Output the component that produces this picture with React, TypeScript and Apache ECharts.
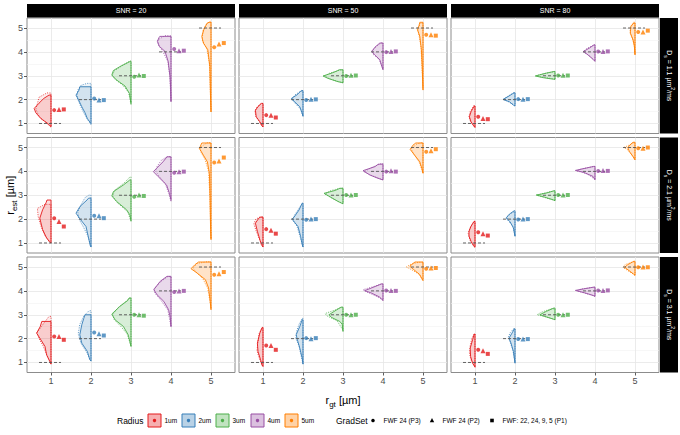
import React, { useEffect, useRef } from 'react';
import * as echarts from 'echarts';

// ---------- data ----------
const RADII = [1, 2, 3, 4, 5];
const RADIUS_LABELS = ['1um', '2um', '3um', '4um', '5um'];
const SNR_LEVELS = ['SNR = 20', 'SNR = 50', 'SNR = 80'];
const DIFFUSIVITIES = ['1.1', '2.1', '3.1'];
const GRADSETS = ['FWF 24 (P3)', 'FWF 24 (P2)', 'FWF: 22, 24, 9, 5 (P1)'];
const X_TICKS = [1, 2, 3, 4, 5];
const Y_TICKS = [1, 2, 3, 4, 5];
const Y_MINOR = [1.5, 2.5, 3.5, 4.5];

// violin half-profiles: [r_est, half-width] from bottom to top, one per radius
const D11_SNR20_SOLID = [
  [[0.86, 0], [1.0, 0.08], [1.2, 0.25], [1.45, 0.38], [1.63, 0.42], [1.85, 0.3], [2.05, 0.18], [2.19, 0.05]],
  [[1.0, 0], [1.2, 0.09], [1.45, 0.15], [1.7, 0.23], [1.95, 0.3], [2.19, 0.375], [2.4, 0.3], [2.54, 0.28]],
  [[1.84, 0], [2.26, 0.04], [2.57, 0.15], [2.82, 0.36], [3.03, 0.48], [3.22, 0.44], [3.39, 0.27], [3.6, 0.02]],
  [[1.91, 0], [2.5, 0.01], [2.96, 0.025], [3.6, 0.07], [4.02, 0.15], [4.23, 0.29], [4.44, 0.34], [4.6, 0.3], [4.65, 0.28]],
  [[1.49, 0], [2.0, 0.01], [3.4, 0.03], [4.09, 0.08], [4.37, 0.19], [4.65, 0.23], [4.93, 0.18], [5.2, 0.1], [5.24, 0.05]],
];
const D11_SNR20_DOTTED = [
  [[0.84, 0], [1.0, 0.1], [1.3, 0.3], [1.6, 0.38], [1.9, 0.33], [2.1, 0.3], [2.28, 0.1]],
  [[0.95, 0], [1.2, 0.1], [1.5, 0.2], [1.8, 0.28], [2.1, 0.35], [2.4, 0.33], [2.6, 0.25], [2.68, 0.1]],
  [[1.8, 0], [2.3, 0.06], [2.6, 0.2], [2.85, 0.4], [3.0, 0.47], [3.2, 0.42], [3.45, 0.2], [3.62, 0.03]],
  [[1.95, 0], [3.0, 0.03], [3.6, 0.08], [4.0, 0.2], [4.3, 0.32], [4.5, 0.33], [4.68, 0.15]],
  [[1.5, 0], [2.5, 0.02], [3.5, 0.04], [4.1, 0.1], [4.5, 0.22], [4.9, 0.2], [5.15, 0.12], [5.28, 0.02]],
];
const D11_SNR20_MEANS = [[1.56, 1.59, 1.59], [2.05, 1.98, 1.98], [2.96, 3.03, 2.99], [4.12, 4.05, 4.05], [4.19, 4.33, 4.37]];

const D11_SNR50_SOLID = [
  [[0.86, 0], [0.9, 0.03], [1.07, 0.08], [1.28, 0.17], [1.56, 0.19], [1.75, 0.1], [1.84, 0.04]],
  [[1.31, 0], [1.42, 0.02], [1.7, 0.08], [1.91, 0.21], [2.05, 0.29], [2.2, 0.15], [2.38, 0.04]],
  [[2.71, 0], [2.75, 0.125], [2.89, 0.375], [2.99, 0.5], [3.1, 0.3], [3.2, 0.15], [3.25, 0.1]],
  [[3.25, 0], [3.39, 0.03], [3.67, 0.08], [3.88, 0.21], [4.02, 0.275], [4.2, 0.2], [4.37, 0.08]],
  [[2.4, 0], [3.39, 0.02], [4.09, 0.04], [4.65, 0.08], [4.93, 0.14], [5.1, 0.1], [5.24, 0.08]],
];
const D11_SNR50_DOTTED = [
  [[0.86, 0], [1.1, 0.1], [1.3, 0.18], [1.5, 0.2], [1.7, 0.15], [1.84, 0.05]],
  [[1.3, 0], [1.6, 0.06], [1.85, 0.2], [2.0, 0.28], [2.2, 0.2], [2.35, 0.06]],
  [[2.7, 0], [2.85, 0.3], [2.98, 0.45], [3.1, 0.35], [3.25, 0.05]],
  [[3.3, 0], [3.7, 0.1], [3.9, 0.25], [4.05, 0.28], [4.25, 0.15], [4.38, 0.05]],
  [[2.5, 0], [3.5, 0.03], [4.2, 0.05], [4.7, 0.1], [5.0, 0.13], [5.2, 0.05]],
];
const D11_SNR50_MEANS = [[1.35, 1.35, 1.25], [1.98, 2.02, 2.01], [2.99, 3.02, 3.01], [3.99, 4.02, 4.02], [4.72, 4.72, 4.68]];

const D11_SNR80_SOLID = [
  [[0.83, 0], [0.89, 0.03], [1.07, 0.1], [1.28, 0.14], [1.49, 0.1], [1.73, 0.02]],
  [[1.73, 0], [1.77, 0.04], [1.91, 0.14], [2.01, 0.3], [2.12, 0.18], [2.29, 0.02]],
  [[2.85, 0], [2.87, 0.1], [2.92, 0.3], [2.99, 0.49], [3.11, 0.22], [3.18, 0.02]],
  [[3.6, 0], [3.69, 0.05], [3.88, 0.18], [4.02, 0.29], [4.16, 0.14], [4.3, 0.02]],
  [[3.88, 0], [4.23, 0.015], [4.51, 0.05], [4.79, 0.12], [5.07, 0.1], [5.21, 0.03]],
];
const D11_SNR80_DOTTED = [
  [[0.85, 0], [1.1, 0.12], [1.3, 0.15], [1.5, 0.12], [1.75, 0.03]],
  [[1.75, 0], [1.9, 0.15], [2.0, 0.28], [2.1, 0.22], [2.28, 0.04]],
  [[2.86, 0], [2.95, 0.35], [3.0, 0.48], [3.08, 0.3], [3.17, 0.03]],
  [[3.62, 0], [3.85, 0.15], [4.0, 0.3], [4.15, 0.2], [4.28, 0.04]],
  [[3.9, 0], [4.3, 0.02], [4.6, 0.07], [4.85, 0.12], [5.05, 0.12], [5.25, 0.03]],
];
const D11_SNR80_MEANS = [[1.28, 1.21, 1.18], [2.02, 2.02, 2.02], [3.01, 3.02, 3.01], [4.02, 4.02, 4.02], [4.83, 4.83, 4.89]];

const D21_SNR20_SOLID = [
  [[1.0, 0], [1.03, 0.03], [1.21, 0.11], [1.56, 0.21], [2.04, 0.28], [2.39, 0.21], [2.7, 0.12], [2.8, 0.1]],
  [[0.83, 0], [0.9, 0.02], [1.28, 0.07], [1.69, 0.125], [2.04, 0.29], [2.25, 0.375], [2.53, 0.275], [2.8, 0.1], [2.88, 0.06]],
  [[1.94, 0], [2.18, 0.03], [2.39, 0.11], [2.74, 0.36], [2.97, 0.48], [3.15, 0.44], [3.43, 0.19], [3.64, 0.03]],
  [[2.81, 0], [3.08, 0.04], [3.43, 0.11], [3.78, 0.32], [3.99, 0.44], [4.13, 0.36], [4.4, 0.2], [4.61, 0.1]],
  [[1.14, 0], [1.56, 0.01], [2.94, 0.025], [3.92, 0.04], [4.4, 0.09], [4.68, 0.19], [4.96, 0.29], [5.19, 0.23]],
];
const D21_SNR20_DOTTED = [
  [[1.0, 0], [1.3, 0.15], [1.7, 0.25], [2.1, 0.32], [2.45, 0.34], [2.62, 0.15]],
  [[0.85, 0], [1.3, 0.08], [1.7, 0.2], [2.0, 0.3], [2.3, 0.33], [2.6, 0.25], [2.9, 0.15], [3.01, 0.05]],
  [[1.9, 0], [2.3, 0.08], [2.7, 0.35], [2.95, 0.45], [3.2, 0.42], [3.5, 0.18], [3.78, 0.02]],
  [[2.75, 0], [3.1, 0.06], [3.5, 0.15], [3.8, 0.3], [4.0, 0.38], [4.2, 0.35], [4.45, 0.25], [4.62, 0.1]],
  [[1.2, 0], [3.0, 0.03], [4.0, 0.06], [4.5, 0.15], [4.8, 0.25], [5.0, 0.28], [5.2, 0.1]],
];
const D21_SNR20_MEANS = [[2.04, 1.9, 1.69], [2.14, 2.14, 2.04], [2.94, 3.01, 2.97], [3.94, 3.99, 3.99], [4.37, 4.44, 4.58]];

const D21_SNR50_SOLID = [
  [[0.83, 0], [0.93, 0.04], [1.14, 0.08], [1.49, 0.14], [1.83, 0.19], [2.0, 0.12], [2.08, 0.08]],
  [[0.83, 0], [0.93, 0.02], [1.28, 0.06], [1.69, 0.125], [2.0, 0.275], [2.08, 0.225], [2.38, 0.1], [2.67, 0.02]],
  [[2.64, 0], [2.74, 0.125], [2.94, 0.33], [3.08, 0.475], [3.2, 0.2], [3.29, 0.08]],
  [[3.64, 0], [3.71, 0.125], [3.85, 0.33], [4.03, 0.5], [4.2, 0.2], [4.3, 0.12]],
  [[3.92, 0], [4.13, 0.03], [4.4, 0.08], [4.68, 0.21], [4.92, 0.32], [5.1, 0.25], [5.19, 0.18]],
];
const D21_SNR50_DOTTED = [
  [[0.85, 0], [1.2, 0.1], [1.5, 0.17], [1.8, 0.23], [2.0, 0.18], [2.1, 0.06]],
  [[0.85, 0], [1.3, 0.08], [1.7, 0.15], [1.95, 0.25], [2.15, 0.22], [2.5, 0.08], [2.65, 0.02]],
  [[2.65, 0], [2.85, 0.25], [3.05, 0.45], [3.2, 0.3], [3.3, 0.05]],
  [[3.65, 0], [3.8, 0.25], [3.98, 0.47], [4.15, 0.3], [4.33, 0.05]],
  [[3.95, 0], [4.4, 0.1], [4.7, 0.22], [4.95, 0.3], [5.15, 0.15], [5.2, 0.05]],
];
const D21_SNR50_MEANS = [[1.58, 1.53, 1.39], [1.97, 2.0, 2.0], [3.01, 3.01, 3.01], [3.99, 4.03, 3.99], [4.82, 4.86, 4.93]];

const D21_SNR80_SOLID = [
  [[0.82, 0], [0.86, 0.03], [1.07, 0.1], [1.28, 0.15], [1.49, 0.15], [1.7, 0.1], [1.91, 0.02]],
  [[1.28, 0], [1.63, 0.04], [1.88, 0.12], [2.05, 0.22], [2.21, 0.14], [2.35, 0.02]],
  [[2.77, 0], [2.81, 0.05], [2.92, 0.26], [3.01, 0.47], [3.09, 0.22], [3.19, 0.02]],
  [[3.65, 0], [3.79, 0.05], [3.97, 0.3], [4.04, 0.49], [4.11, 0.3], [4.21, 0.03]],
  [[4.48, 0], [4.62, 0.05], [4.83, 0.14], [5.0, 0.18], [5.15, 0.1], [5.22, 0.05]],
];
const D21_SNR80_DOTTED = [
  [[0.84, 0], [1.1, 0.12], [1.4, 0.17], [1.65, 0.12], [1.9, 0.03]],
  [[1.3, 0], [1.7, 0.05], [1.95, 0.18], [2.1, 0.2], [2.3, 0.05]],
  [[2.78, 0], [2.9, 0.25], [3.0, 0.45], [3.1, 0.25], [3.18, 0.03]],
  [[3.66, 0], [3.9, 0.2], [4.02, 0.45], [4.1, 0.35], [4.2, 0.05]],
  [[4.5, 0], [4.7, 0.08], [4.9, 0.18], [5.0, 0.28], [5.1, 0.15], [5.2, 0.03]],
];
const D21_SNR80_MEANS = [[1.45, 1.39, 1.31], [1.98, 2.0, 2.0], [3.01, 3.01, 3.01], [4.02, 4.04, 4.02], [4.97, 4.97, 5.0]];

const D31_SNR20_SOLID = [
  [[0.93, 0], [1.04, 0.03], [1.32, 0.11], [1.67, 0.15], [2.02, 0.28], [2.23, 0.36], [2.5, 0.27], [2.72, 0.23]],
  [[1.07, 0], [1.11, 0.03], [1.46, 0.09], [1.81, 0.23], [2.16, 0.28], [2.58, 0.23], [2.85, 0.18], [3.0, 0.15]],
  [[1.67, 0], [1.88, 0.03], [2.16, 0.07], [2.51, 0.19], [2.79, 0.4], [3.03, 0.48], [3.35, 0.28], [3.6, 0.08], [3.7, 0.05]],
  [[2.51, 0], [2.9, 0.02], [3.21, 0.06], [3.56, 0.18], [3.84, 0.35], [4.05, 0.43], [4.4, 0.27], [4.61, 0.1]],
  [[3.21, 0], [3.56, 0.02], [4.12, 0.06], [4.47, 0.14], [4.75, 0.35], [4.93, 0.5], [5.1, 0.4], [5.21, 0.31]],
];
const D31_SNR20_DOTTED = [
  [[0.95, 0], [1.3, 0.1], [1.7, 0.2], [2.0, 0.3], [2.25, 0.35], [2.6, 0.2], [2.93, 0.05]],
  [[1.05, 0], [1.4, 0.1], [1.8, 0.25], [2.2, 0.32], [2.6, 0.28], [2.95, 0.18], [3.17, 0.05]],
  [[1.7, 0], [2.2, 0.1], [2.5, 0.25], [2.8, 0.42], [3.0, 0.46], [3.3, 0.32], [3.6, 0.1], [3.72, 0.02]],
  [[2.5, 0], [3.2, 0.08], [3.6, 0.25], [3.9, 0.4], [4.1, 0.42], [4.4, 0.25], [4.6, 0.08]],
  [[3.3, 0], [4.1, 0.08], [4.5, 0.2], [4.8, 0.38], [4.95, 0.45], [5.15, 0.35], [5.22, 0.1]],
];
const D31_SNR20_MEANS = [[2.09, 2.09, 1.95], [2.26, 2.2, 2.13], [3.0, 3.0, 2.96], [3.95, 4.0, 4.0], [4.68, 4.72, 4.79]];

const D31_SNR50_SOLID = [
  [[0.83, 0], [0.9, 0.03], [1.11, 0.06], [1.46, 0.125], [1.81, 0.14], [2.23, 0.08], [2.47, 0.02]],
  [[0.93, 0], [1.18, 0.02], [1.6, 0.08], [1.95, 0.14], [2.16, 0.17], [2.51, 0.08], [2.79, 0.02]],
  [[2.3, 0], [2.6, 0.02], [2.72, 0.08], [2.89, 0.29], [3.0, 0.35], [3.11, 0.25], [3.32, 0.05]],
  [[3.59, 0], [3.74, 0.08], [3.91, 0.29], [4.01, 0.46], [4.12, 0.29], [4.29, 0.04]],
  [[4.43, 0], [4.51, 0.03], [4.68, 0.08], [4.89, 0.23], [5.03, 0.33], [5.15, 0.25], [5.21, 0.2]],
];
const D31_SNR50_DOTTED = [
  [[0.85, 0], [1.1, 0.08], [1.5, 0.15], [1.8, 0.13], [2.2, 0.1], [2.45, 0.03]],
  [[0.95, 0], [1.3, 0.05], [1.7, 0.1], [2.0, 0.18], [2.3, 0.16], [2.6, 0.1], [2.85, 0.02]],
  [[2.35, 0], [2.75, 0.15], [2.95, 0.4], [3.05, 0.45], [3.2, 0.2], [3.3, 0.05]],
  [[3.62, 0], [3.8, 0.2], [3.95, 0.4], [4.05, 0.5], [4.2, 0.2], [4.3, 0.03]],
  [[4.45, 0], [4.7, 0.1], [4.9, 0.3], [5.0, 0.42], [5.12, 0.3], [5.2, 0.1]],
];
const D31_SNR50_MEANS = [[1.71, 1.71, 1.53], [2.02, 1.99, 2.02], [3.0, 3.0, 3.0], [4.02, 4.02, 4.0], [4.93, 4.96, 4.96]];

const D31_SNR80_SOLID = [
  [[0.8, 0], [0.83, 0.01], [0.97, 0.06], [1.25, 0.11], [1.6, 0.12], [1.95, 0.06], [2.19, 0.02]],
  [[0.97, 0], [1.46, 0.04], [1.81, 0.1], [2.02, 0.15], [2.27, 0.06], [2.41, 0.02]],
  [[2.79, 0], [2.82, 0.05], [2.9, 0.2], [3.0, 0.38], [3.14, 0.22], [3.28, 0.03]],
  [[3.77, 0], [3.81, 0.05], [3.92, 0.26], [4.02, 0.49], [4.09, 0.26], [4.16, 0.02]],
  [[4.65, 0], [4.71, 0.04], [4.85, 0.15], [4.99, 0.26], [5.1, 0.18], [5.24, 0.03]],
];
const D31_SNR80_DOTTED = [
  [[0.82, 0], [1.1, 0.1], [1.4, 0.14], [1.7, 0.12], [2.0, 0.08], [2.2, 0.02]],
  [[1.0, 0], [1.5, 0.05], [1.85, 0.12], [2.05, 0.17], [2.25, 0.12], [2.42, 0.03]],
  [[2.8, 0], [2.9, 0.2], [3.0, 0.45], [3.1, 0.35], [3.25, 0.1]],
  [[3.78, 0], [3.9, 0.25], [4.0, 0.45], [4.08, 0.35], [4.15, 0.05]],
  [[4.66, 0], [4.85, 0.18], [4.98, 0.3], [5.1, 0.25], [5.22, 0.05]],
];
const D31_SNR80_MEANS = [[1.53, 1.49, 1.36], [1.98, 1.98, 1.98], [3.0, 3.0, 3.0], [4.02, 4.02, 4.02], [4.99, 5.0, 4.99]];

// ---------- styles / layout ----------
const COLORS = ['#E41A1C', '#377EB8', '#4DAF4A', '#984EA3', '#FF7F00'];
const SYMBOLS = ['circle', 'triangle', 'rect'];
const SYMBOL_SIZES = [4, 5, 4];
const DODGE = [0.08, 0.2, 0.32];
const SEG = [-0.3, 0.25];
const COL_LEFT = [27, 239, 451];
const ROW_TOP = [18, 137.5, 257];
const PANEL_W = 208;
const PANEL_H = 115.5;
const X_MIN = 0.4, X_MAX = 5.6, Y_MIN = 0.58, Y_MAX = 5.42;
const FONT = 'Liberation Sans, Arial, sans-serif';
const LEG_Y = 420.5;
const LEG_BOX_X = [148, 182, 216, 251, 285];
const LEG_SYM_X = [373, 432, 492];

const PANELS = [
  { row: 0, col: 0, solid: D11_SNR20_SOLID, dotted: D11_SNR20_DOTTED, means: D11_SNR20_MEANS },
  { row: 0, col: 1, solid: D11_SNR50_SOLID, dotted: D11_SNR50_DOTTED, means: D11_SNR50_MEANS },
  { row: 0, col: 2, solid: D11_SNR80_SOLID, dotted: D11_SNR80_DOTTED, means: D11_SNR80_MEANS },
  { row: 1, col: 0, solid: D21_SNR20_SOLID, dotted: D21_SNR20_DOTTED, means: D21_SNR20_MEANS },
  { row: 1, col: 1, solid: D21_SNR50_SOLID, dotted: D21_SNR50_DOTTED, means: D21_SNR50_MEANS },
  { row: 1, col: 2, solid: D21_SNR80_SOLID, dotted: D21_SNR80_DOTTED, means: D21_SNR80_MEANS },
  { row: 2, col: 0, solid: D31_SNR20_SOLID, dotted: D31_SNR20_DOTTED, means: D31_SNR20_MEANS },
  { row: 2, col: 1, solid: D31_SNR50_SOLID, dotted: D31_SNR50_DOTTED, means: D31_SNR50_MEANS },
  { row: 2, col: 2, solid: D31_SNR80_SOLID, dotted: D31_SNR80_DOTTED, means: D31_SNR80_MEANS },
];

function rgba(hex: string, a: number) {
  const n = parseInt(hex.slice(1), 16);
  return `rgba(${(n >> 16) & 255},${(n >> 8) & 255},${n & 255},${a})`;
}

function buildOption() {
  const grid: any[] = [];
  const xAxis: any[] = [];
  const yAxis: any[] = [];
  const series: any[] = [];

  PANELS.forEach((p, i) => {
    grid.push({
      left: COL_LEFT[p.col], top: ROW_TOP[p.row], width: PANEL_W, height: PANEL_H,
      show: true, borderColor: '#8c8c8c', borderWidth: 1, backgroundColor: '#ffffff',
      outerBoundsMode: 'none',
    });
    xAxis.push({
      type: 'value', gridIndex: i, min: X_MIN, max: X_MAX,
      axisLine: { show: false },
      axisTick: { show: p.row === 2, customValues: X_TICKS, length: 3, lineStyle: { color: '#333333', width: 0.8 } },
      axisLabel: { show: p.row === 2, customValues: X_TICKS, fontSize: 9, color: '#4d4d4d', margin: 4, fontFamily: FONT },
      splitLine: { show: true, lineStyle: { color: '#e6e6e6', width: 0.8 } },
    });
    yAxis.push({
      type: 'value', gridIndex: i, min: Y_MIN, max: Y_MAX,
      axisLine: { show: false },
      axisTick: { show: p.col === 0, customValues: Y_TICKS, length: 3, lineStyle: { color: '#333333', width: 0.8 } },
      axisLabel: { show: p.col === 0, customValues: Y_TICKS, fontSize: 9, color: '#4d4d4d', margin: 4, fontFamily: FONT },
      splitLine: { show: true, lineStyle: { color: '#e6e6e6', width: 0.8 } },
    });
    yAxis.push({
      type: 'value', gridIndex: i, min: Y_MIN, max: Y_MAX,
      axisLine: { show: false },
      axisTick: { show: false, customValues: Y_MINOR },
      axisLabel: { show: false, customValues: Y_MINOR },
      splitLine: { show: true, lineStyle: { color: '#f2f2f2', width: 0.6 } },
    });

    series.push({
      type: 'custom',
      xAxisIndex: i,
      yAxisIndex: 2 * i,
      silent: true,
      z: 3,
      data: RADII.map((r) => [r, r]),
      encode: { x: 0, y: 1 },
      renderItem: (params: any, api: any) => {
        const k = params.dataIndex;
        const x = RADII[k];
        const c = COLORS[k];
        const toPts = (prof: number[][]) => {
          const pts: number[][] = [api.coord([x, prof[0][0]])];
          prof.forEach(([y, w]) => pts.push(api.coord([x - w, y])));
          pts.push(api.coord([x, prof[prof.length - 1][0]]));
          return pts;
        };
        const a = api.coord([x + SEG[0], RADII[k]]);
        const b = api.coord([x + SEG[1], RADII[k]]);
        return {
          type: 'group',
          children: [
            {
              type: 'polygon',
              shape: { points: toPts(p.dotted[k]) },
              style: { fill: rgba(c, 0.08), stroke: c, lineWidth: 0.8, lineDash: [1, 1.4] },
            },
            {
              type: 'polygon',
              shape: { points: toPts(p.solid[k]) },
              style: { fill: rgba(c, 0.15), stroke: c, lineWidth: 0.9 },
            },
            {
              type: 'line',
              shape: { x1: a[0], y1: a[1], x2: b[0], y2: b[1] },
              style: { stroke: '#555555', lineWidth: 0.9, lineDash: [3, 2] },
            },
          ],
        };
      },
    });

    GRADSETS.forEach((g, gi) => {
      series.push({
        type: 'scatter',
        name: g,
        xAxisIndex: i,
        yAxisIndex: 2 * i,
        silent: true,
        z: 4,
        symbol: SYMBOLS[gi],
        symbolSize: SYMBOL_SIZES[gi],
        data: RADII.map((r, k) => ({ value: [r + DODGE[gi], p.means[k][gi]], itemStyle: { color: COLORS[k] } })),
      });
    });
  });

  const graphic: any[] = [];
  // top strips
  SNR_LEVELS.forEach((s, c) => {
    graphic.push({ type: 'rect', silent: true, shape: { x: COL_LEFT[c], y: 4, width: PANEL_W, height: 13.5 }, style: { fill: '#000000' } });
    graphic.push({
      type: 'text', silent: true, x: COL_LEFT[c] + PANEL_W / 2, y: 10.8,
      style: { text: s, fill: '#ffffff', fontSize: 7, fontFamily: FONT, align: 'center', verticalAlign: 'middle' },
    });
  });
  // right strips
  const stripRich = {
    n: { fill: '#ffffff', fontSize: 7, fontFamily: FONT, lineHeight: 12, verticalAlign: 'middle' },
    s: { fill: '#ffffff', fontSize: 5, fontFamily: FONT, lineHeight: 6, verticalAlign: 'bottom' },
    p: { fill: '#ffffff', fontSize: 5, fontFamily: FONT, lineHeight: 6, verticalAlign: 'top' },
  };
  DIFFUSIVITIES.forEach((d, r) => {
    graphic.push({ type: 'rect', silent: true, shape: { x: 660, y: ROW_TOP[r], width: 18, height: PANEL_H }, style: { fill: '#000000' } });
    graphic.push({
      type: 'text', silent: true, x: 669, y: ROW_TOP[r] + PANEL_H / 2, rotation: -Math.PI / 2,
      style: { text: `{n|D}{s|s}{n| = ${d} µm}{p|2}{n|/ms}`, rich: stripRich, align: 'center', verticalAlign: 'middle' },
    });
  });
  // axis titles
  const titleRich = {
    n: { fill: '#000000', fontSize: 11, fontFamily: FONT, lineHeight: 16, verticalAlign: 'middle' },
    s: { fill: '#000000', fontSize: 8, fontFamily: FONT, lineHeight: 8, verticalAlign: 'bottom' },
  };
  graphic.push({
    type: 'text', silent: true, x: 10, y: (ROW_TOP[0] + ROW_TOP[2] + PANEL_H) / 2, rotation: Math.PI / 2,
    style: { text: '{n|r}{s|est}{n| [µm]}', rich: titleRich, align: 'center', verticalAlign: 'middle' },
  });
  graphic.push({
    type: 'text', silent: true, x: (COL_LEFT[0] + COL_LEFT[2] + PANEL_W) / 2, y: 400,
    style: { text: '{n|r}{s|gt}{n| [µm]}', rich: titleRich, align: 'center', verticalAlign: 'middle' },
  });
  // legend
  graphic.push({
    type: 'text', silent: true, x: 117, y: LEG_Y,
    style: { text: 'Radius', fill: '#000000', fontSize: 8.5, fontFamily: FONT, align: 'left', verticalAlign: 'middle' },
  });
  RADIUS_LABELS.forEach((lab, k) => {
    const bx = LEG_BOX_X[k];
    graphic.push({ type: 'rect', silent: true, shape: { x: bx, y: LEG_Y - 6.5, width: 13, height: 13 }, style: { fill: rgba(COLORS[k], 0.35), stroke: COLORS[k], lineWidth: 1 } });
    graphic.push({ type: 'circle', silent: true, shape: { cx: bx + 6.5, cy: LEG_Y, r: 1.7 }, style: { fill: COLORS[k] } });
    graphic.push({
      type: 'text', silent: true, x: bx + 16.5, y: LEG_Y,
      style: { text: lab, fill: '#000000', fontSize: 6.5, fontFamily: FONT, align: 'left', verticalAlign: 'middle' },
    });
  });
  graphic.push({
    type: 'text', silent: true, x: 336, y: LEG_Y,
    style: { text: 'GradSet', fill: '#000000', fontSize: 8.5, fontFamily: FONT, align: 'left', verticalAlign: 'middle' },
  });
  GRADSETS.forEach((lab, g) => {
    const sx = LEG_SYM_X[g];
    if (g === 0) {
      graphic.push({ type: 'circle', silent: true, shape: { cx: sx, cy: LEG_Y, r: 1.8 }, style: { fill: '#000000' } });
    } else if (g === 1) {
      graphic.push({ type: 'polygon', silent: true, shape: { points: [[sx, LEG_Y - 2.4], [sx - 2.2, LEG_Y + 1.8], [sx + 2.2, LEG_Y + 1.8]] }, style: { fill: '#000000' } });
    } else {
      graphic.push({ type: 'rect', silent: true, shape: { x: sx - 1.8, y: LEG_Y - 1.8, width: 3.6, height: 3.6 }, style: { fill: '#000000' } });
    }
    graphic.push({
      type: 'text', silent: true, x: sx + 10.5, y: LEG_Y,
      style: { text: lab, fill: '#000000', fontSize: 6.5, fontFamily: FONT, align: 'left', verticalAlign: 'middle' },
    });
  });

  return {
    animation: false,
    backgroundColor: '#ffffff',
    textStyle: { fontFamily: FONT },
    grid, xAxis, yAxis, series, graphic,
  };
}

export default function App() {
  const ref = useRef<HTMLDivElement>(null);
  useEffect(() => {
    if (!ref.current) return;
    const chart = echarts.init(ref.current, undefined, { renderer: 'svg' });
    chart.setOption(buildOption() as any);
    return () => chart.dispose();
  }, []);
  return <div ref={ref} style={{ position: 'fixed', left: 0, top: 0, width: 680, height: 435 }} />;
}
